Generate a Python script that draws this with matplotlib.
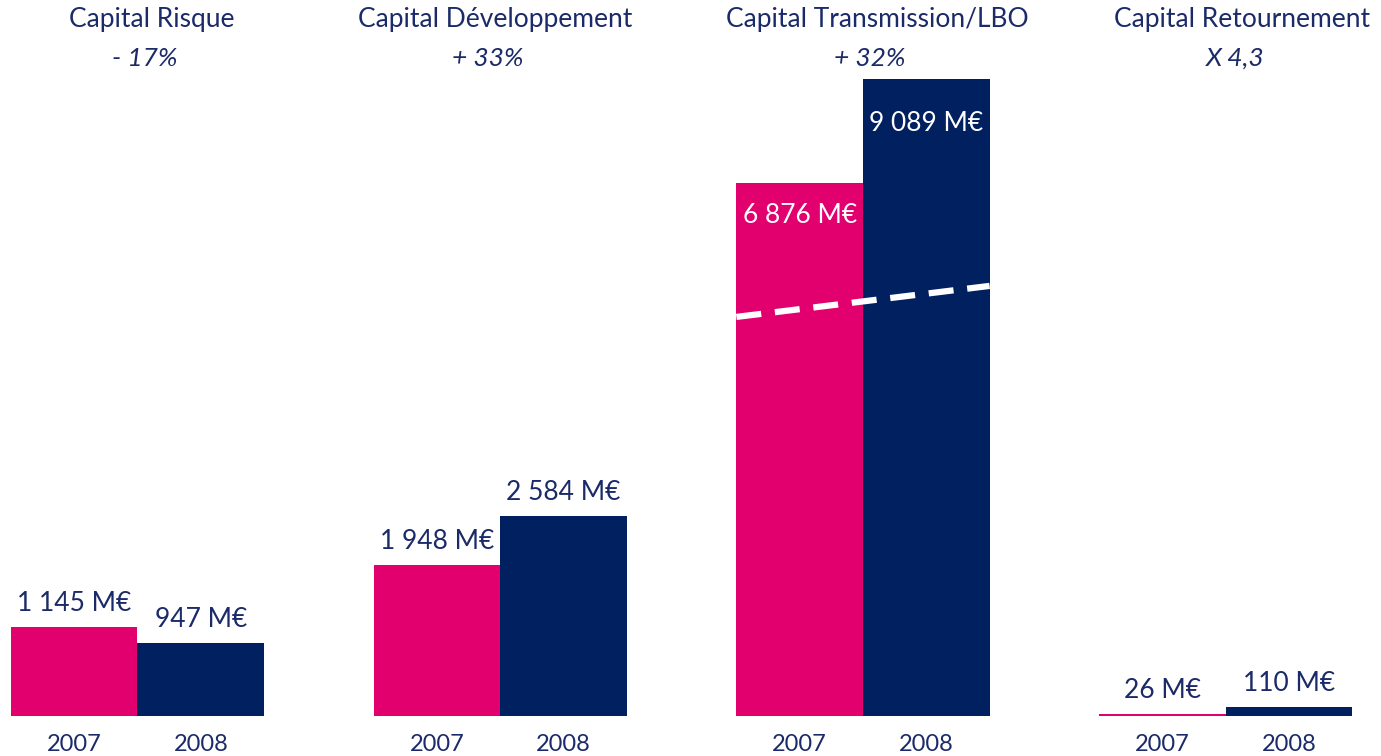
import matplotlib
matplotlib.use("Agg")
import matplotlib.pyplot as plt
import numpy as np

categories = ["Capital Risque", "Capital Développement", "Capital Transmission/LBO", "Capital Retournement"]
changes = ["- 17%", "+ 33%", "+ 32%", "X 4,3"]
years = ["2007", "2008"]
values_2007 = [1145, 1948, 6876, 26]
values_2008 = [947, 2584, 9089, 110]
labels_2007 = ["1 145 M€", "1 948 M€", "6 876 M€", "26 M€"]
labels_2008 = ["947 M€", "2 584 M€", "9 089 M€", "110 M€"]

PINK = "#E2006F"
NAVY = "#002060"
TXT = "#1B2A68"
FONT = ["Lato", "DejaVu Sans"]

W, H = 1381, 756
fig = plt.figure(figsize=(W / 100, H / 100), dpi=100)
bottom = (H - 716) / H
top = 1 - 79 / H
ax = fig.add_axes([0, bottom, 1, top - bottom])

x = np.arange(len(categories))
bw = 0.349
ax.bar(x - bw / 2, values_2007, width=bw, color=PINK, linewidth=0)
ax.bar(x + bw / 2, values_2008, width=bw, color=NAVY, linewidth=0)

ax.set_xlim(-0.379, 3.428)
ax.set_ylim(0, 8220)
ax.axis("off")

fs_val = 19
fs_year = 17
fs_title = 19
ymax = ax.get_ylim()[1]
for i in range(len(categories)):
    inside = values_2008[i] > ymax
    for xo, v, lab in [(-bw / 2, values_2007[i], labels_2007[i]),
                       (bw / 2, values_2008[i], labels_2008[i])]:
        vis = min(v, ymax)
        if inside:
            dy = -23 if v > ymax else -14
            ax.annotate(lab, (x[i] + xo, vis), xytext=(0, dy), textcoords="offset points",
                        ha="center", va="top", color="white", fontsize=fs_val, family=FONT)
        else:
            ax.annotate(lab, (x[i] + xo, vis), xytext=(0, 8), textcoords="offset points",
                        ha="center", va="bottom", color=TXT, fontsize=fs_val, family=FONT)
        ax.annotate(years[0] if xo < 0 else years[1], (x[i] + xo, 0), xytext=(0, -13),
                    textcoords="offset points", ha="center", va="top", color=TXT,
                    fontsize=fs_year, family=FONT, annotation_clip=False)

# scale-break dashed line on the LBO bars
ax.plot([2 - bw, 2 + bw], [5150, 5550], color="white", lw=4.5, dashes=(4, 2.2),
        solid_capstyle="butt", dash_capstyle="butt")

title_shift = [0.04, -0.015, 0.04, 0.045]
for i, (c, ch) in enumerate(zip(categories, changes)):
    ax.annotate(c, (x[i] + title_shift[i], 1), xycoords=("data", "axes fraction"),
                xytext=(0, 42.5), textcoords="offset points", ha="center", va="center",
                color=TXT, fontsize=fs_title, family=FONT, annotation_clip=False)
    ax.annotate(ch, (x[i] + title_shift[i] - 0.02, 1), xycoords=("data", "axes fraction"),
                xytext=(0, 15), textcoords="offset points", ha="center", va="center",
                color=TXT, fontsize=fs_title, style="italic", family=FONT, annotation_clip=False)

fig.savefig("out.png", dpi=100, facecolor="white")
